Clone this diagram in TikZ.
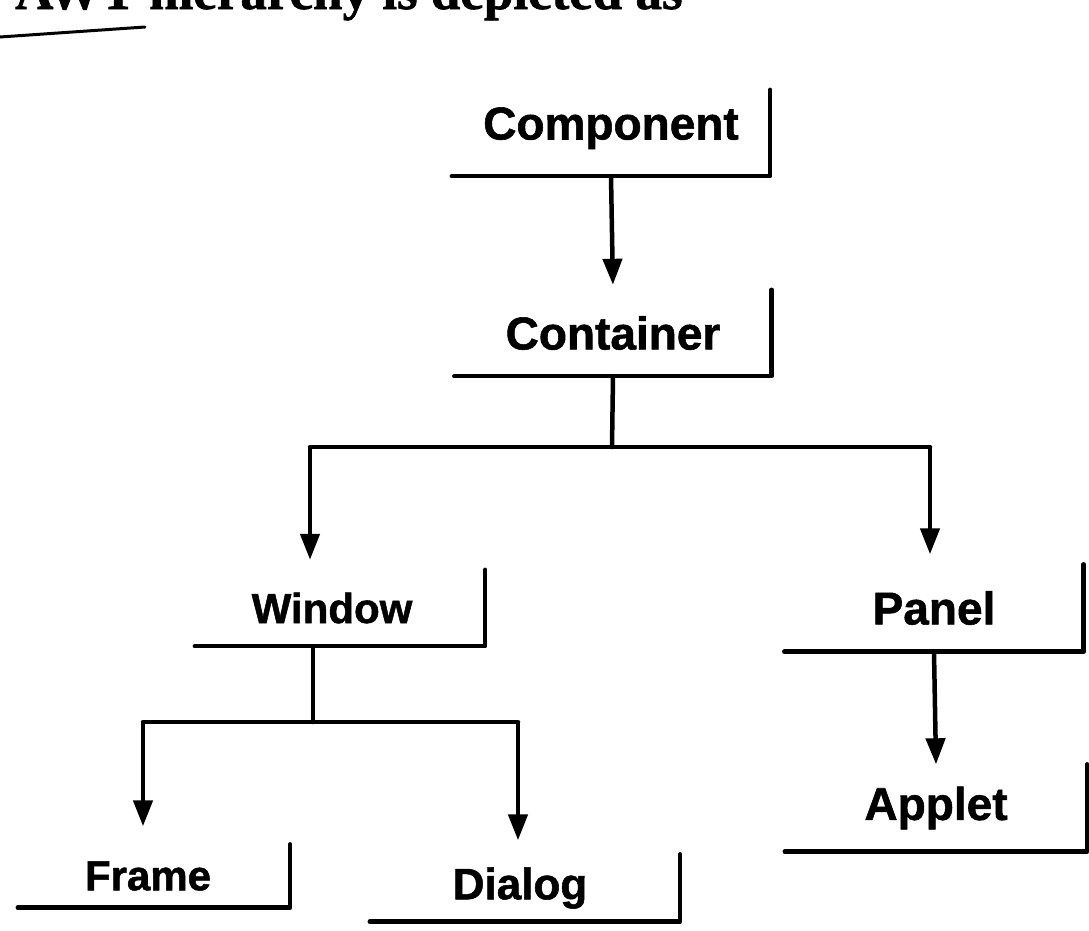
\documentclass[tikz,border=0pt]{standalone}
\usepackage{fontspec}
\setmainfont{Liberation Sans}[BoldFeatures={FakeBold=1.2}]
\newfontfamily\serifb{Liberation Serif}[BoldFeatures={FakeBold=1.2}]
\usetikzlibrary{arrows.meta}
\begin{document}
\begin{tikzpicture}[x=1pt,y=-1pt,
  box/.style={inner sep=0pt, font=\fontsize{46}{50}\selectfont\bfseries},
  sbox/.style={box, font=\fontsize{42}{46}\selectfont\bfseries},
  edge/.style={line width=4.5pt, line cap=round, line join=round},
  arr/.style={line width=4.5pt, -{Triangle[length=26pt,width=19pt]}}]
\useasboundingbox (0,0) rectangle (1089,930);
% title fragment
\node[anchor=base west, inner sep=0pt, font=\serifb\fontsize{53}{56}\selectfont\bfseries] (title) at (15,9) {AWT hierarchy is depicted as};
\coordinate (ula) at (0,37);
\coordinate (ulb) at (145,27);
\draw[line width=3pt, line cap=round] (ula) -- (ulb);
% boxes
\node[box, text height=33pt, text depth=20pt, minimum width=318pt, minimum height=86pt] (comp) at (611,133) {Component};
\node[box, minimum width=317pt, minimum height=86pt] (cont) at (613,333) {Container};
\node[sbox, minimum width=290pt, minimum height=76pt] (win) at (340,608) {\hspace*{-16pt}Window};
\node[box, minimum width=299pt, minimum height=87pt] (panel) at (934,608) {Panel};
\node[sbox, minimum width=272pt, minimum height=63pt] (frame) at (154,876) {\hspace*{-12pt}Frame};
\node[box, font=\fontsize{44}{48}\selectfont\bfseries, minimum width=310pt, minimum height=67pt] (dialog) at (525,888) {\hspace*{-10pt}Dialog};
\node[box, minimum width=302pt, minimum height=87pt] (applet) at (936,808) {Applet};
\foreach \n in {comp,cont,win,panel,frame,dialog,applet}
  \draw[edge] (\n.south west) -- (\n.south east) -- (\n.north east);
% connectors
\draw[arr, shorten >=5pt] (comp.south) -- (cont.north);
\coordinate (j1) at (612,447);
\coordinate (jw) at (310,447);
\coordinate (jp) at (930,447);
\draw[edge] (cont.south) -- (j1);
\draw[edge] (jw) -- (jp);
\draw[arr, shorten >=10pt] (jw) -- (win.north -| jw);
\draw[arr, shorten >=10pt] (jp) -- (panel.north -| jp);
\coordinate (j2) at (313,722);
\coordinate (jf) at (143,722);
\coordinate (jd) at (518,722);
\draw[edge] (win.south -| j2) -- (j2);
\draw[edge] (jf) -- (jd);
\draw[arr, shorten >=18pt] (jf) -- (frame.north -| jf);
\draw[arr, shorten >=14pt] (jd) -- (dialog.north -| jd);
\draw[arr] (panel.south) -- (applet.north);
\end{tikzpicture}
\end{document}
